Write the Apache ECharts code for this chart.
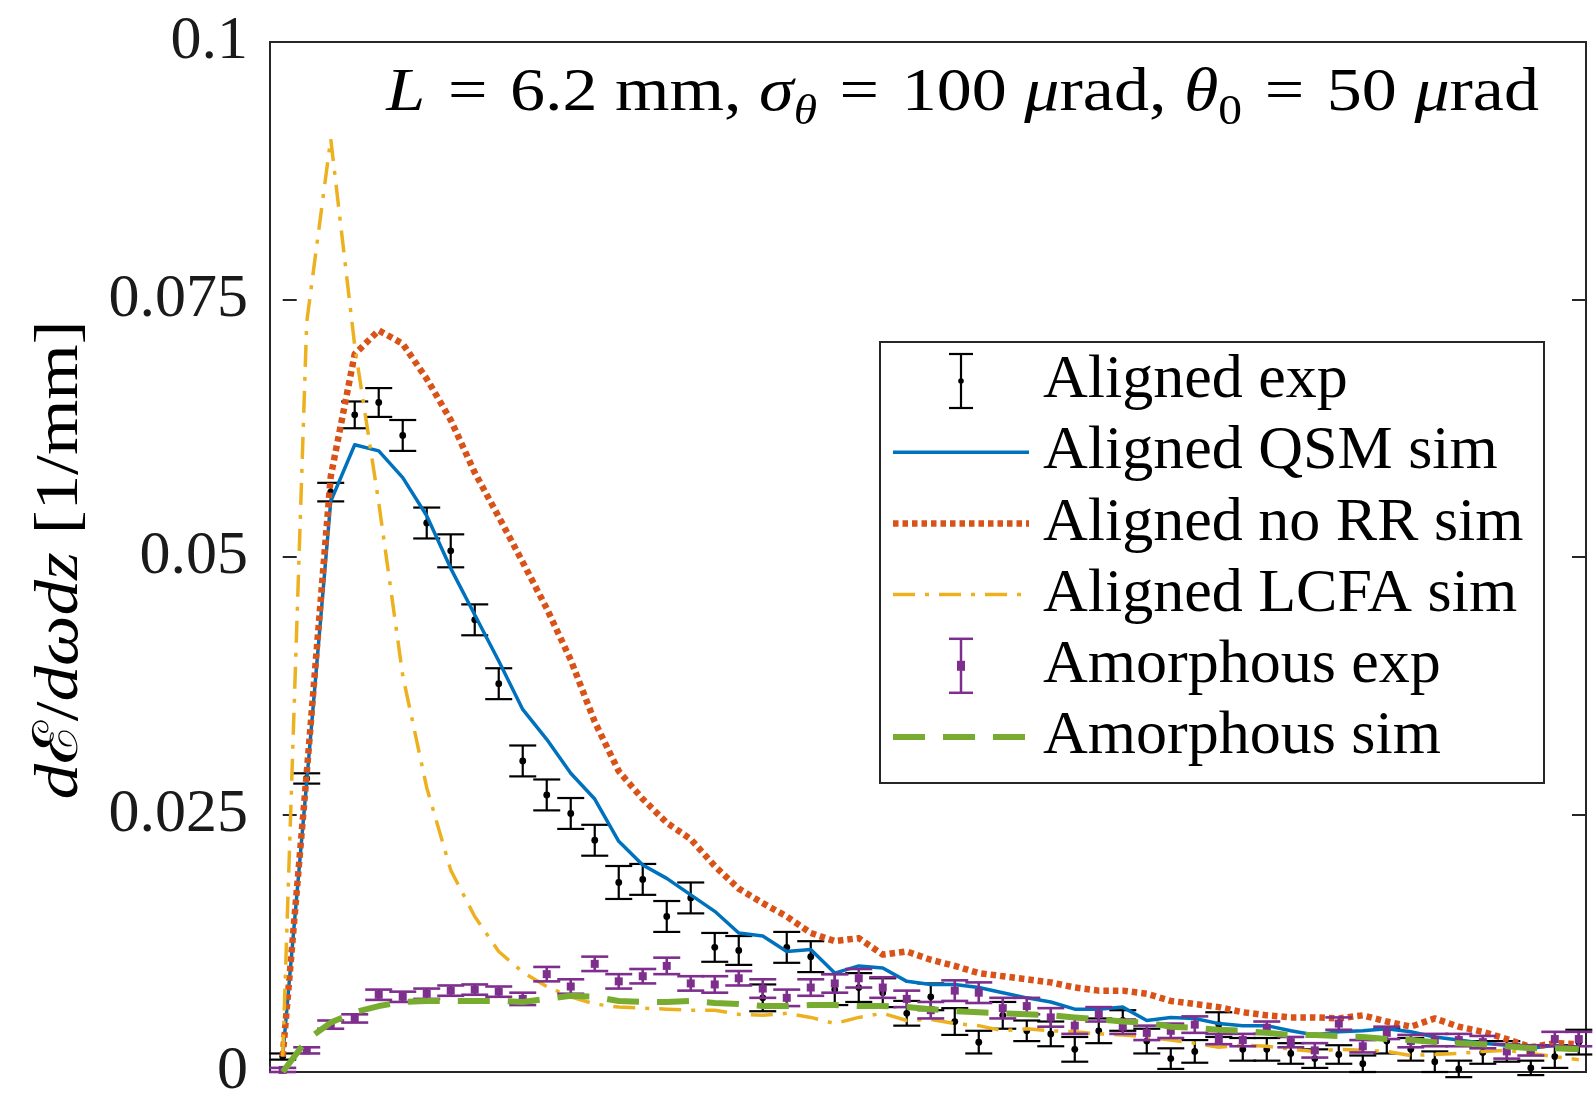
<!DOCTYPE html>
<html>
<head>
<meta charset="utf-8">
<script src="https://cdn.jsdelivr.net/npm/echarts@6/dist/echarts.min.js"></script>
<style>
  html, body { margin: 0; padding: 0; background: #ffffff; }
  #chart { width: 1595px; height: 1103px; }
</style>
</head>
<body>
<div id="chart"></div>
<script>
// Photon energy bins (bin index along the horizontal axis)
const bins = [0, 1, 2, 3, 4, 5, 6, 7, 8, 9, 10, 11, 12, 13, 14, 15, 16, 17, 18, 19,
  20, 21, 22, 23, 24, 25, 26, 27, 28, 29, 30, 31, 32, 33, 34, 35, 36, 37, 38, 39,
  40, 41, 42, 43, 44, 45, 46, 47, 48, 49, 50, 51, 52, 53, 54];

// Aligned crystal, measured spectrum and its uncertainty
const alignedExp = [0.0015, 0.0285, 0.0563, 0.0638, 0.0650, 0.0618, 0.0533, 0.0506, 0.0439, 0.0377,
  0.0302, 0.0269, 0.0251, 0.0225, 0.0184, 0.0187, 0.0151, 0.0169, 0.0121, 0.0118,
  0.0072, 0.0121, 0.0112, 0.0080, 0.0082, 0.0077, 0.0057, 0.0073, 0.0049, 0.0029,
  0.0055, 0.0040, 0.0037, 0.0022, 0.0040, 0.0050, 0.0030, 0.0013, 0.0020, 0.0046,
  0.0022, 0.0022, 0.0018, 0.0013, 0.0017, 0.0008, 0.0030, 0.0022, 0.0010, 0.0003,
  0.0019, 0.0020, 0.0004, 0.0015, 0.0029];
const alignedExpErr = [0.0003, 0.0005, 0.0009, 0.0013, 0.0014, 0.0015, 0.0015, 0.0016, 0.0015, 0.0015,
  0.0015, 0.0015, 0.0015, 0.0015, 0.0016, 0.0015, 0.0015, 0.0015, 0.0014, 0.0014,
  0.0013, 0.0015, 0.0015, 0.0015, 0.0014, 0.0014, 0.0012, 0.0013, 0.0013, 0.0011,
  0.0013, 0.0010, 0.0012, 0.0012, 0.0012, 0.0010, 0.0012, 0.0010, 0.0011, 0.0012,
  0.0011, 0.0011, 0.0010, 0.0009, 0.0009, 0.0008, 0.0012, 0.0011, 0.0010, 0.0008,
  0.0011, 0.0010, 0.0007, 0.0011, 0.0012];

// Aligned crystal, simulations
const alignedQSM = [0.0015, 0.0282, 0.0554, 0.0609, 0.0603, 0.0577, 0.0540, 0.0489, 0.0444, 0.0399,
  0.0352, 0.0323, 0.0290, 0.0265, 0.0224, 0.0201, 0.0188, 0.0172, 0.0156, 0.0135,
  0.0132, 0.0117, 0.0119, 0.0096, 0.0103, 0.0101, 0.0088, 0.0085, 0.0085, 0.0082,
  0.0077, 0.0072, 0.0068, 0.0061, 0.0061, 0.0063, 0.0050, 0.0053, 0.0052, 0.0047,
  0.0045, 0.0045, 0.0040, 0.0036, 0.0039, 0.0040, 0.0042, 0.0039, 0.0034, 0.0031,
  0.0028, 0.0026, 0.0023, 0.0026, 0.0023];
const alignedNoRR = [0.0015, 0.0290, 0.0578, 0.0697, 0.0720, 0.0707, 0.0673, 0.0633, 0.0582, 0.0539,
  0.0495, 0.0450, 0.0400, 0.0340, 0.0292, 0.0265, 0.0242, 0.0226, 0.0200, 0.0178,
  0.0164, 0.0151, 0.0135, 0.0127, 0.0130, 0.0114, 0.0117, 0.0109, 0.0103, 0.0096,
  0.0093, 0.0090, 0.0087, 0.0082, 0.0079, 0.0079, 0.0076, 0.0069, 0.0066, 0.0063,
  0.0058, 0.0055, 0.0053, 0.0053, 0.0052, 0.0055, 0.0049, 0.0044, 0.0052, 0.0044,
  0.0039, 0.0032, 0.0024, 0.0028, 0.0027];
const alignedLCFA = [0.0015, 0.0728, 0.0906, 0.0705, 0.0553, 0.0385, 0.0276, 0.0196, 0.0151, 0.0117,
  0.0097, 0.0083, 0.0073, 0.0066, 0.0063, 0.0062, 0.0061, 0.0060, 0.0060, 0.0056,
  0.0055, 0.0057, 0.0053, 0.0047, 0.0053, 0.0057, 0.0050, 0.0051, 0.0047, 0.0045,
  0.0040, 0.0042, 0.0040, 0.0039, 0.0037, 0.0036, 0.0034, 0.0031, 0.0028, 0.0024,
  0.0026, 0.0025, 0.0022, 0.0020, 0.0022, 0.0021, 0.0020, 0.0016, 0.0017, 0.0018,
  0.0020, 0.0021, 0.0018, 0.0015, 0.0012];

// Amorphous target, measured spectrum and its uncertainty
const amorphousExp = [0.0002, 0.0021, 0.0046, 0.0052, 0.0075, 0.0073, 0.0076, 0.0079, 0.0080, 0.0078,
  0.0071, 0.0095, 0.0083, 0.0105, 0.0088, 0.0093, 0.0103, 0.0086, 0.0085, 0.0091,
  0.0081, 0.0072, 0.0082, 0.0086, 0.0091, 0.0082, 0.0071, 0.0060, 0.0079, 0.0077,
  0.0062, 0.0064, 0.0053, 0.0045, 0.0056, 0.0044, 0.0038, 0.0040, 0.0046, 0.0032,
  0.0031, 0.0043, 0.0029, 0.0021, 0.0047, 0.0025, 0.0038, 0.0030, 0.0031, 0.0031,
  0.0029, 0.0020, 0.0021, 0.0032, 0.0032];
const amorphousExpErr = [0.0002, 0.0003, 0.0004, 0.0004, 0.0005, 0.0005, 0.0005, 0.0005, 0.0005, 0.0005,
  0.0006, 0.0007, 0.0007, 0.0007, 0.0007, 0.0007, 0.0008, 0.0007, 0.0008, 0.0007,
  0.0009, 0.0008, 0.0008, 0.0009, 0.0009, 0.0010, 0.0008, 0.0008, 0.0010, 0.0010,
  0.0010, 0.0008, 0.0009, 0.0008, 0.0007, 0.0007, 0.0007, 0.0007, 0.0008, 0.0005,
  0.0006, 0.0006, 0.0005, 0.0007, 0.0006, 0.0006, 0.0006, 0.0006, 0.0006, 0.0006,
  0.0006, 0.0007, 0.0005, 0.0007, 0.0007];

// Amorphous target, simulation
const amorphousSim = [0.0000, 0.0031, 0.0048, 0.0058, 0.0064, 0.0068, 0.0069, 0.0069, 0.0069, 0.0069,
  0.0068, 0.0071, 0.0074, 0.0073, 0.0069, 0.0068, 0.0068, 0.0069, 0.0067, 0.0066,
  0.0064, 0.0064, 0.0065, 0.0065, 0.0064, 0.0064, 0.0063, 0.0061, 0.0059, 0.0058,
  0.0057, 0.0056, 0.0055, 0.0053, 0.0051, 0.0049, 0.0048, 0.0044, 0.0043, 0.0041,
  0.0040, 0.0038, 0.0036, 0.0036, 0.0035, 0.0034, 0.0032, 0.0031, 0.0029, 0.0028,
  0.0027, 0.0025, 0.0023, 0.0023, 0.0022];

// Vertical axis ticks
const yTicks = [0, 0.025, 0.05, 0.075, 0.1];

const legendNames = ['Aligned exp', 'Aligned QSM sim', 'Aligned no RR sim',
  'Aligned LCFA sim', 'Amorphous exp', 'Amorphous sim'];

const SERIF = '"Liberation Serif", "DejaVu Serif", serif';
const INK = '#262626';
const C = {
  black: '#000000',
  blue: '#0072BD',
  red: '#D95319',
  yellow: '#EDB120',
  purple: '#7E2F8E',
  green: '#77AC30'
};
const STYLE = {
  qsm: { color: C.blue, width: 3.5, type: 'solid' },
  noRR: { color: C.red, width: 6.5, type: [5.5, 4] },
  lcfa: { color: C.yellow, width: 3.5, type: [22, 10, 4, 10] },
  amSim: { color: C.green, width: 6, type: [32, 18] }
};

const chart = echarts.init(document.getElementById('chart'), null, { renderer: 'canvas' });

function pairs(ys) {
  return bins.map((b, i) => [b, ys[i]]);
}

function lineSeries(name, ys, st, z) {
  return {
    type: 'line', name, data: pairs(ys), z,
    showSymbol: false, symbol: 'none', smooth: false,
    lineStyle: { color: st.color, width: st.width, type: st.type, cap: 'butt', join: 'round' },
    emphasis: { disabled: true }, silent: true, animation: false
  };
}

function errorSeries(name, ys, errs, color, lw, markerKind, z) {
  return {
    type: 'custom', name, z, silent: true, animation: false,
    data: bins.map((b, i) => [b, ys[i], ys[i] - errs[i], ys[i] + errs[i]]),
    renderItem(params, api) {
      const x = api.value(0);
      const p = api.coord([x, api.value(1)]);
      const lo = api.coord([x, api.value(2)]);
      const hi = api.coord([x, api.value(3)]);
      const hw = 13.5;
      const st = { stroke: color, lineWidth: lw };
      const children = [
        { type: 'line', shape: { x1: lo[0], y1: lo[1], x2: hi[0], y2: hi[1] }, style: st },
        { type: 'line', shape: { x1: lo[0] - hw, y1: lo[1], x2: lo[0] + hw, y2: lo[1] }, style: st },
        { type: 'line', shape: { x1: hi[0] - hw, y1: hi[1], x2: hi[0] + hw, y2: hi[1] }, style: st }
      ];
      if (markerKind === 'dot') {
        children.push({ type: 'circle', shape: { cx: p[0], cy: p[1], r: 3.4 }, style: { fill: color } });
      } else {
        children.push({ type: 'rect', shape: { x: p[0] - 4, y: p[1] - 4, width: 8, height: 8 }, style: { fill: color } });
      }
      return { type: 'group', children };
    }
  };
}

// Legend drawn as graphic elements so error-bar glyphs can be shown
const LEG = { x: 880, y: 342, w: 664, h: 441, row0: 381, dy: 71.2, s0: 893, s1: 1029, tx: 1043 };
const legendGraphics = [
  { type: 'rect', shape: { x: LEG.x, y: LEG.y, width: LEG.w, height: LEG.h },
    style: { fill: '#ffffff', stroke: INK, lineWidth: 2 }, z: 100 }
];
const legendGlyphs = [
  { kind: 'err', color: C.black, marker: 'dot' },
  { kind: 'line', st: STYLE.qsm },
  { kind: 'line', st: STYLE.noRR },
  { kind: 'line', st: STYLE.lcfa },
  { kind: 'err', color: C.purple, marker: 'square' },
  { kind: 'line', st: STYLE.amSim }
];
legendNames.forEach((name, i) => {
  const cy = LEG.row0 + i * LEG.dy;
  const g = legendGlyphs[i];
  if (g.kind === 'line') {
    legendGraphics.push({ type: 'line', z: 101,
      shape: { x1: LEG.s0, y1: cy, x2: LEG.s1, y2: cy },
      style: { stroke: g.st.color, lineWidth: g.st.width,
        lineDash: g.st.type === 'solid' ? null : g.st.type, lineCap: 'butt' } });
  } else {
    const cx = 961;
    const st = { stroke: g.color, lineWidth: g.color === C.black ? 2.2 : 2.5 };
    legendGraphics.push({ type: 'line', z: 101, shape: { x1: cx, y1: cy - 27, x2: cx, y2: cy + 27 }, style: st });
    legendGraphics.push({ type: 'line', z: 101, shape: { x1: cx - 12, y1: cy - 27, x2: cx + 12, y2: cy - 27 }, style: st });
    legendGraphics.push({ type: 'line', z: 101, shape: { x1: cx - 12, y1: cy + 27, x2: cx + 12, y2: cy + 27 }, style: st });
    if (g.marker === 'dot') {
      legendGraphics.push({ type: 'circle', z: 101, shape: { cx, cy, r: 2.8 }, style: { fill: g.color } });
    } else {
      legendGraphics.push({ type: 'rect', z: 101, shape: { x: cx - 4, y: cy - 5, width: 8, height: 10 }, style: { fill: g.color } });
    }
  }
  legendGraphics.push({ type: 'text', z: 101, x: LEG.tx, y: cy,
    style: { text: name, fill: '#000000', font: '62px ' + SERIF, textAlign: 'left', textVerticalAlign: 'middle' } });
});

// Parameter annotation in the upper right corner (stretched horizontally
// so the math setting keeps its wide spacing)
const annotation = {
  type: 'text', z: 101, x: 1539, y: 94, scaleX: 1.13, scaleY: 1,
  style: {
    text: '{i|L}{eq|=}6.2 mm, {i|σ}{subi|θ}{eq|=}100 {i|μ}rad, {i|θ}{sub|0}{eq|=}50 {i|μ}rad',
    align: 'right', verticalAlign: 'middle',
    fontFamily: SERIF, fontSize: 62, fill: '#000000', lineHeight: 80,
    rich: {
      i: { fontStyle: 'italic', fontFamily: SERIF, fontSize: 62, lineHeight: 80, verticalAlign: 'middle' },
      eq: { fontFamily: SERIF, fontSize: 62, lineHeight: 80, padding: [0, 20, 0, 20], verticalAlign: 'middle' },
      subi: { fontStyle: 'italic', fontFamily: SERIF, fontSize: 42, lineHeight: 42, verticalAlign: 'bottom' },
      sub: { fontFamily: SERIF, fontSize: 42, lineHeight: 42, verticalAlign: 'bottom' }
    }
  }
};

// Vertical axis title, rotated to read bottom to top
const yTitle = {
  type: 'text', z: 101, x: 61, y: 560, rotation: Math.PI / 2, scaleX: 1.15, scaleY: 1,
  style: {
    text: '{i|d}ℰ/{i|dωdz} [1/mm]',
    align: 'center', verticalAlign: 'middle',
    fontFamily: SERIF, fontSize: 62, fill: '#000000',
    rich: {
      i: { fontStyle: 'italic', fontFamily: SERIF, fontSize: 62 }
    }
  }
};

const yAxisBase = {
  type: 'value', min: yTicks[0], max: yTicks[yTicks.length - 1], interval: yTicks[1] - yTicks[0],
  axisLine: { show: false },
  axisTick: { show: true, inside: true, length: 14, lineStyle: { color: INK, width: 2 } },
  splitLine: { show: false }
};

const option = {
  backgroundColor: '#ffffff',
  animation: false,
  grid: { left: 270, right: 9, top: 42, bottom: 21, show: true, borderColor: INK, borderWidth: 2, backgroundColor: 'transparent', containLabel: false },
  xAxis: {
    type: 'value', min: -0.53, max: 54.3,
    axisLine: { show: false }, axisTick: { show: false }, axisLabel: { show: false }, splitLine: { show: false }
  },
  yAxis: [
    Object.assign({}, yAxisBase, {
      position: 'left',
      axisLabel: { show: true, margin: 22, color: '#1a1a1a', fontFamily: SERIF, fontSize: 62,
        padding: [8, 0, 0, 0],
        formatter: v => String(+v.toFixed(3)) }
    }),
    Object.assign({}, yAxisBase, { position: 'right', axisLabel: { show: false } })
  ],
  series: [
    errorSeries(legendNames[0], alignedExp, alignedExpErr, C.black, 2.2, 'dot', 2),
    lineSeries(legendNames[1], alignedQSM, STYLE.qsm, 3),
    lineSeries(legendNames[2], alignedNoRR, STYLE.noRR, 4),
    lineSeries(legendNames[3], alignedLCFA, STYLE.lcfa, 5),
    errorSeries(legendNames[4], amorphousExp, amorphousExpErr, C.purple, 2.6, 'square', 6),
    lineSeries(legendNames[5], amorphousSim, STYLE.amSim, 7)
  ],
  graphic: legendGraphics.concat([annotation, yTitle])
};

chart.setOption(option);
</script>
</body>
</html>
